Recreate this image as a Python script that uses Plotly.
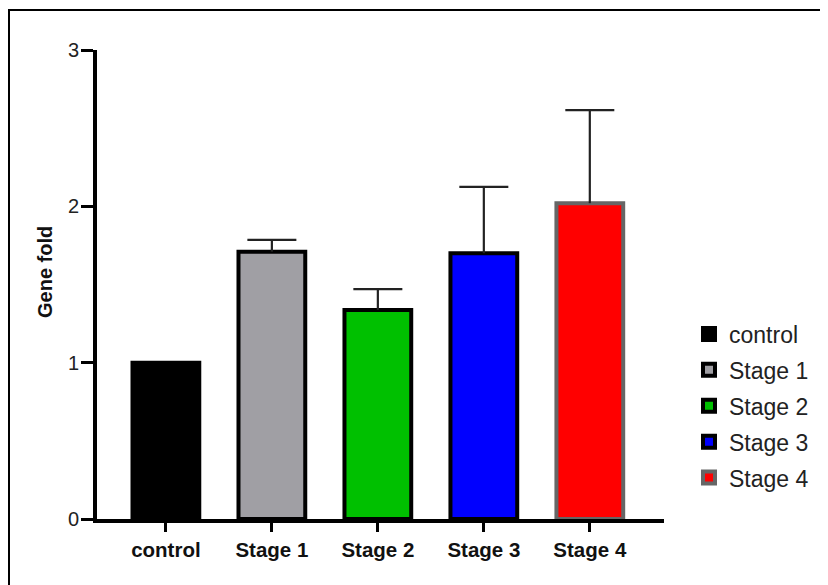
import plotly.graph_objects as go

categories = ["control", "Stage 1", "Stage 2", "Stage 3", "Stage 4"]
values = [1.0, 1.71, 1.337, 1.70, 2.02]
errors_up = [0.0, 0.075, 0.134, 0.424, 0.595]
fill_colors = ["#000000", "#a09fa4", "#00c000", "#0000ff", "#ff0000"]
line_colors = ["#000000", "#000000", "#000000", "#000000", "#666666"]
y_ticks = [0, 1, 2, 3]

# page body has an 8px margin, so the figure is drawn 8px smaller and offset
OFF = 8
W, H = 828 - OFF, 585 - OFF
PL, PT, PW, PH = 97, 50, 567, 469  # plot area in screen pixels
L, T = PL - OFF, PT - OFF
R = W - L - PW
B = H - T - PH

fig = go.Figure()
for i, c in enumerate(categories):
    fig.add_trace(go.Bar(
        x=[i], y=[values[i]], name=c, legendgroup=c,
        width=0.63,
        marker=dict(color=fill_colors[i], line=dict(color=line_colors[i], width=4)),
        error_y=dict(type="data", symmetric=False, array=[errors_up[i]], arrayminus=[0],
                     color="#222222", thickness=2.2, width=0,
                     visible=errors_up[i] > 0),
    ))

# error-bar caps
cap_x = [i for i in range(len(categories)) if errors_up[i] > 0]
cap_y = [values[i] + errors_up[i] for i in cap_x]
fig.add_trace(go.Scatter(
    x=cap_x, y=cap_y, mode="markers", showlegend=False, hoverinfo="skip",
    marker=dict(symbol="line-ew", size=35, line=dict(color="#222222", width=2.2)),
))

fig.update_layout(
    width=W, height=H,
    margin=dict(l=L, r=R, t=T, b=B),
    paper_bgcolor="white", plot_bgcolor="white",
    font=dict(family="Liberation Sans, Arial, sans-serif", color="#111111"),
    showlegend=True,
    legend=dict(x=(689 - PL) / PW, y=1 - (406 - PT) / PH, xanchor="left", yanchor="middle",
                font=dict(size=23, color="#222222"), tracegroupgap=3,
                itemwidth=30, bgcolor="rgba(0,0,0,0)"),
    xaxis=dict(range=[-0.65, 4.7], tickmode="array", tickvals=list(range(5)),
               ticktext=[f"<b>{c}</b>" for c in categories],
               showline=True, linecolor="black", linewidth=4,
               ticks="outside", ticklen=9, tickwidth=3, tickcolor="black",
               tickfont=dict(size=20.5, color="#111111"), showgrid=False, zeroline=False,
               fixedrange=True),
    yaxis=dict(range=[0, 3], tickmode="array", tickvals=y_ticks,
               ticktext=[str(v) for v in y_ticks],
               showline=True, linecolor="black", linewidth=4,
               ticks="outside", ticklen=12, tickwidth=3, tickcolor="black",
               ticklabelstandoff=-2,
               tickfont=dict(size=20, color="#222222"),
               showgrid=False, zeroline=False, fixedrange=True),
    annotations=[dict(text="<b>Gene fold</b>", textangle=-90, showarrow=False,
                      xref="paper", yref="paper",
                      x=(45 - PL) / PW, y=1 - (272 - PT) / PH,
                      xanchor="center", yanchor="middle",
                      font=dict(size=20, color="#111111"))],
)

# outer frame (top and left edges visible)
fig.add_shape(type="rect", xref="paper", yref="paper",
              x0=(9 - PL) / PW, x1=(860 - PL) / PW,
              y0=-(640 - (PT + PH)) / PH, y1=1 + (PT - 10) / PH,
              line=dict(color="black", width=2), layer="below")

fig.write_html("out.html")
